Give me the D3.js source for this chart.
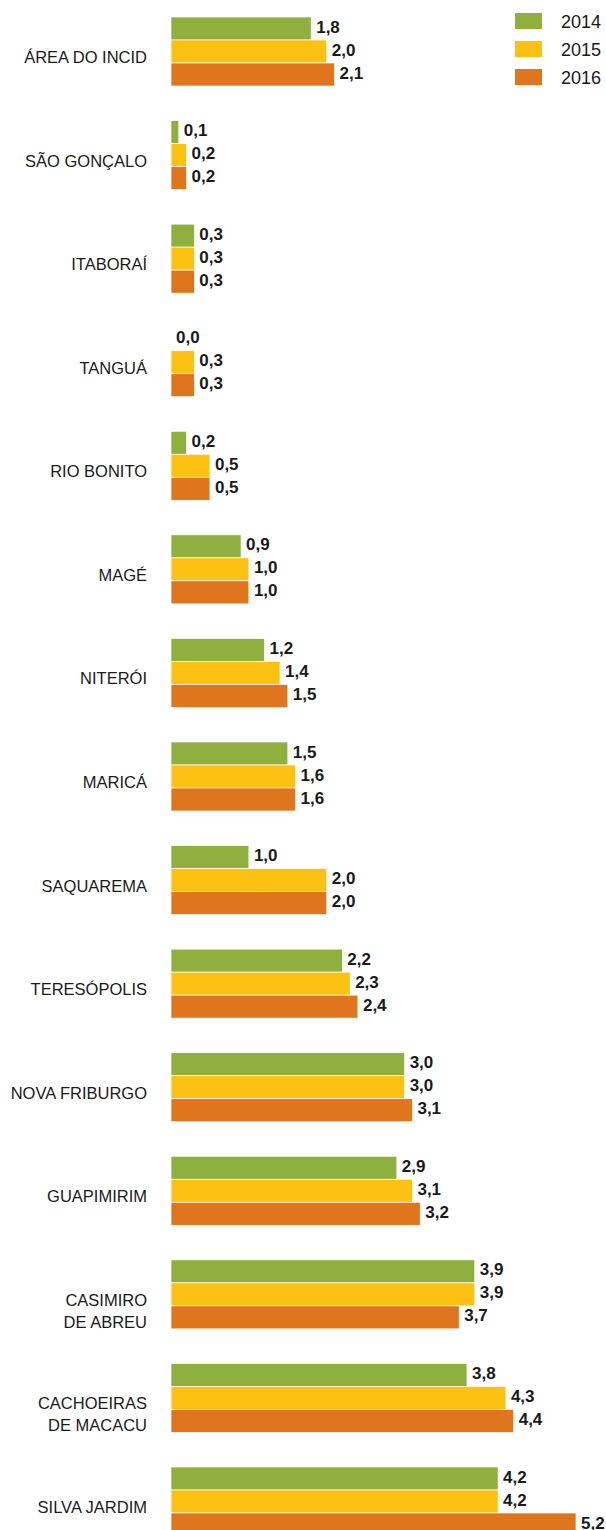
<!DOCTYPE html>
<html>
<head>
<meta charset="utf-8">
<script src="https://cdn.jsdelivr.net/npm/d3@7"></script>
<style>
  body { margin: 0; background: #fff; }
  svg { display: block; }
</style>
</head>
<body>
<svg id="chart"></svg>
<script>
const width = 606;
const height = 1530;

// data
const categories = ["ÁREA DO INCID", "SÃO GONÇALO", "ITABORAÍ", "TANGUÁ", "RIO BONITO", "MAGÉ",
  "NITERÓI", "MARICÁ", "SAQUAREMA", "TERESÓPOLIS", "NOVA FRIBURGO", "GUAPIMIRIM",
  "CASIMIRO\nDE ABREU", "CACHOEIRAS\nDE MACACU", "SILVA JARDIM"];
const years = ["2014", "2015", "2016"];
const v2014 = [1.8, 0.1, 0.3, 0.0, 0.2, 0.9, 1.2, 1.5, 1.0, 2.2, 3.0, 2.9, 3.9, 3.8, 4.2];
const v2015 = [2.0, 0.2, 0.3, 0.3, 0.5, 1.0, 1.4, 1.6, 2.0, 2.3, 3.0, 3.1, 3.9, 4.3, 4.2];
const v2016 = [2.1, 0.2, 0.3, 0.3, 0.5, 1.0, 1.5, 1.6, 2.0, 2.4, 3.1, 3.2, 3.7, 4.4, 5.2];
const series = [v2014, v2015, v2016];
const colors = ["#8fb03e", "#fdc113", "#df761e"];

let svg = d3.select('#chart')
        .attr('width', width)
        .attr('height', height);

let x = d3.scaleLinear().domain([0, 5.2]).range([171, 576]);
let yGroup = d3.scalePoint().domain(categories).range([17, 1467]);
let yBar = d3.scaleBand().domain(years).range([0, 69]);

let color = d3.scaleOrdinal().domain(years).range(colors);

const fmt = v => v.toFixed(1).replace(".", ",");

// groups
let groups = svg.selectAll("g.grp")
        .data(categories)
        .enter().append("g")
        .attr("class", "grp")
        .attr("transform", d => "translate(0," + yGroup(d) + ")");

groups.each(function(cat, i) {
    let g = d3.select(this);
    years.forEach((yr, j) => {
        let v = series[j][i];
        g.append("rect")
          .attr("x", x(0))
          .attr("y", yBar(yr))
          .attr("width", x(v) - x(0))
          .attr("height", yBar.bandwidth())
          .style("fill", color(yr))
          .style("stroke", v > 0 ? "#fff" : "none")
          .style("stroke-width", 0.7);
        g.append("text")
          .attr("x", x(v) + 5)
          .attr("y", yBar(yr) + yBar.bandwidth() / 2 + 4)
          .style("font-family", "'Liberation Sans Narrow', 'Arial Narrow', 'Liberation Sans', sans-serif")
          .style("font-weight", "bold")
          .style("font-size", "17px")
          .style("fill", "#1a1a1a")
          .text(fmt(v));
    });

    // category label
    let lines = cat.split("\n");
    let t = g.append("text")
          .attr("x", 147)
          .attr("y", yBar("2015") + yBar.bandwidth() / 2 + 11.5)
          .attr("text-anchor", "end")
          .style("font-family", "'Liberation Sans', Arial, sans-serif")
          .style("font-size", "16.5px")
          .style("fill", "#1a1a1a");
    lines.forEach((ln, k) => {
        t.append("tspan").attr("x", 147).attr("dy", k === 0 ? 0 : 22).text(ln);
    });
});

// legend
let legend = svg.append("g");
years.forEach((yr, j) => {
    legend.append("rect")
        .attr("x", 515)
        .attr("y", 13 + j * 28)
        .attr("width", 27)
        .attr("height", 16)
        .style("fill", color(yr));
    legend.append("text")
        .attr("x", 561)
        .attr("y", 27.5 + j * 28)
        .style("font-family", "'Liberation Sans', Arial, sans-serif")
        .style("font-size", "18px")
        .style("fill", "#1a1a1a")
        .text(yr);
});
</script>
</body>
</html>
